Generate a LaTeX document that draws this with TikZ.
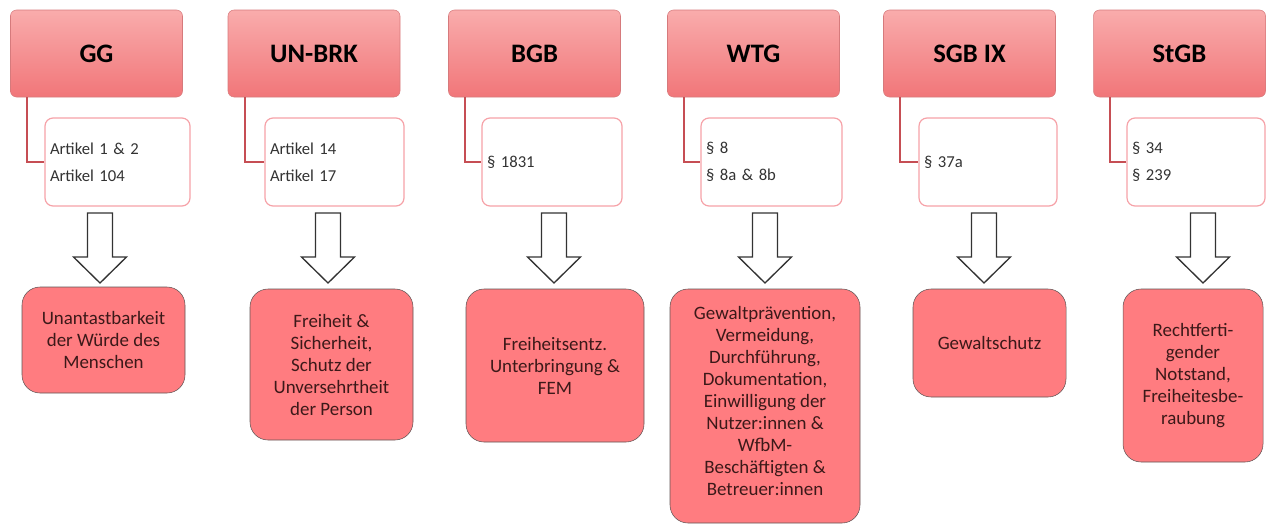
\documentclass[tikz,border=0pt]{standalone}
\usepackage{fontspec}
\setmainfont{Carlito}
\newlength\px
\setlength\px{0.75pt}
\definecolor{headtop}{RGB}{249,172,172}
\definecolor{headbot}{RGB}{241,118,121}
\definecolor{headline}{RGB}{214,122,124}
\definecolor{parline}{RGB}{246,162,168}
\definecolor{linkcol}{RGB}{198,78,84}
\definecolor{goalfill}{RGB}{255,124,128}
\definecolor{goalline}{RGB}{95,85,85}
\definecolor{goaltext}{RGB}{60,25,25}

\begin{document}
\begin{tikzpicture}[x=0.75pt,y=-0.75pt,
  law/.style={draw=headline,rounded corners=6\px,top color=headtop,bottom color=headbot,
    minimum width=172\px,minimum height=87\px,font=\fontsize{20}{23}\selectfont\bfseries},
  para/.style={draw=parline,line width=0.9pt,rounded corners=8\px,fill=white,text width=#1\px,
    inner xsep=5\px,minimum height=88\px,align=left,text=black!80,font=\fontsize{12.5}{20}\selectfont},
  goal/.style={draw=goalline,rounded corners=18\px,fill=goalfill,align=center,
    text=goaltext,font=\fontsize{14.2}{16.5}\selectfont},
  link/.style={draw=linkcol,line width=1.2pt},
  blockarrow/.style={draw=black!80,fill=white,line width=1pt,line join=miter}]

  \useasboundingbox (0,0) rectangle (1266,525);

  % laws
  \node[law] (gg)    at (96.5,53.5)   {GG};
  \node[law] (unbrk) at (314,53.5)    {UN-BRK};
  \node[law] (bgb)   at (534.5,53.5)  {BGB};
  \node[law] (wtg)   at (753.5,53.5)  {WTG};
  \node[law] (sgb)   at (969.5,53.5)  {SGB IX};
  \node[law] (stgb)  at (1179.5,53.5) {StGB};

  % paragraphs
  \node[para=135] (gg-p)    at (117.5,162) {Artikel 1 \& 2\\Artikel 104};
  \node[para=129] (unbrk-p) at (334.5,162) {Artikel 14\\Artikel 17};
  \node[para=130] (bgb-p)   at (552,162)   {§ 1831};
  \node[para=131] (wtg-p)   at (771.5,162) {§ 8\\§ 8a \& 8b};
  \node[para=128] (sgb-p)   at (988,162)   {§ 37a};
  \node[para=128] (stgb-p)  at (1196,162)  {§ 34\\§ 239};

  \foreach \n in {gg,unbrk,bgb,wtg,sgb,stgb}
    \draw[link] ([xshift=17\px]\n.south west) |- (\n-p.west);

  % block arrows
  \foreach \a in {100,328,554,765,984,1203}
    \draw[blockarrow] (\a-12.5,213) -- (\a+12.5,213) -- (\a+12.5,257) -- (\a+26.5,257)
      -- (\a,283) -- (\a-26.5,257) -- (\a-12.5,257) -- cycle;

  % goals
  \node[goal,minimum width=163\px,minimum height=106\px] (gg-z)    at (103.5,340)  {Unantastbarkeit\\der Würde des\\Menschen};
  \node[goal,minimum width=163\px,minimum height=151\px] (unbrk-z) at (331.5,364.5) {Freiheit \&\\Sicherheit,\\Schutz der\\Unversehrtheit\\der Person};
  \node[goal,minimum width=178\px,minimum height=153\px] (bgb-z)   at (555,365.5)  {Freiheitsentz.\\Unterbringung \&\\FEM};
  \node[goal,minimum width=190\px,minimum height=234\px,inner ysep=5\px,text depth=10\px] (wtg-z)   at (765,406)    {Gewaltprävention,\\Vermeidung,\\Durchführung,\\Dokumentation,\\Einwilligung der\\Nutzer:innen \&\\WfbM-\\Beschäftigten \&\\Betreuer:innen};
  \node[goal,minimum width=153\px,minimum height=108\px] (sgb-z)   at (989.5,343)  {Gewaltschutz};
  \node[goal,minimum width=140\px,minimum height=173\px] (stgb-z)  at (1193,375.5) {Rechtferti-\\gender\\Notstand,\\Freiheitesbe-\\raubung};
\end{tikzpicture}
\end{document}
